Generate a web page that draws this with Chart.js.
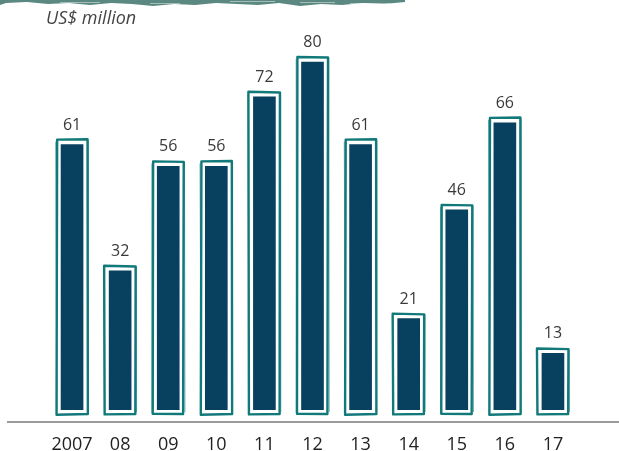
<!DOCTYPE html>
<html><head><meta charset="utf-8">
<script src="https://cdn.jsdelivr.net/npm/chart.js@4/dist/chart.umd.min.js"></script>
<style>html,body{margin:0;padding:0;background:#fff}#wrap{width:619px;height:451px;position:relative}</style>
</head><body><div id="wrap"><canvas id="c" width="619" height="451"></canvas></div>
<script>
const categories = ["2007","08","09","10","11","12","13","14","15","16","17"];
const values = [61,32,56,56,72,80,61,21,46,66,13];
const unitLabel = "US$ million";

const FILL = "#08405f", TEAL = "#12797a", FONT = "'Open Sans', 'Noto Sans', sans-serif";

const deco = {
  id: "deco",
  beforeDraw(chart) {
    const ctx = chart.ctx;
    ctx.save();
    ctx.fillStyle = "#5b8880";
    ctx.beginPath();
    ctx.moveTo(0, 0);
    ctx.lineTo(405, 0);
    const jag = [2,4,3,5,4,6,3,5,4,3,5,4,6,4,3,5,3,4,2,3];
    for (let i = 0; i < jag.length; i++) {
      ctx.lineTo(405 - i * 21, jag[i]);
    }
    ctx.lineTo(0, 5);
    ctx.closePath();
    ctx.fill();
    ctx.fillStyle = "rgba(255,255,255,0.45)";
    const streaks = [[60,2,40],[150,3,30],[230,1,45],[300,2,35],[350,3,40]];
    streaks.forEach(s => ctx.fillRect(s[0], s[1], s[2], 1));
    ctx.restore();
    ctx.save();
    ctx.font = "italic 18px " + FONT;
    ctx.fillStyle = "#444";
    ctx.textBaseline = "middle";
    ctx.fillText(unitLabel, 46, 19);
    ctx.restore();
  },
  afterDatasetsDraw(chart) {
    const ctx = chart.ctx;
    const meta = chart.getDatasetMeta(0);
    const base = chart.scales.y.getPixelForValue(0);
    const jit = [[0.6,-0.4,0.3,0.8],[-0.5,0.7,-0.3,0.4],[0.4,0.5,-0.6,-0.2]];
    meta.data.forEach((bar, i) => {
      const cx = bar.x, top = bar.y;
      const l = cx - 15.5, r = cx + 15.5, t = top - 5, b = base + 4;
      const j = jit[i % 3];
      ctx.save();
      ctx.strokeStyle = TEAL;
      ctx.lineWidth = 2.4;
      ctx.lineJoin = "round";
      ctx.beginPath();
      ctx.moveTo(l + j[0], t);
      ctx.lineTo(r, t + j[1]);
      ctx.lineTo(r + j[2], b);
      ctx.lineTo(l, b + j[3]);
      ctx.closePath();
      ctx.stroke();
      ctx.lineWidth = 1;
      ctx.globalAlpha = 0.6;
      ctx.beginPath();
      ctx.moveTo(l - 0.8, t + 2);
      ctx.lineTo(l - 0.5 + j[3], b - 1);
      ctx.moveTo(r + 0.8, t + 1);
      ctx.lineTo(r + 0.6 - j[2], b - 2);
      ctx.stroke();
      ctx.restore();
      ctx.save();
      ctx.font = "16px " + FONT;
      ctx.fillStyle = "#3a3a3a";
      ctx.textAlign = "center";
      ctx.textBaseline = "alphabetic";
      ctx.fillText(String(values[i]), cx, top - 15);
      ctx.restore();
    });
    ctx.save();
    ctx.strokeStyle = "#7a7a7a";
    ctx.lineWidth = 1.5;
    ctx.beginPath();
    ctx.moveTo(7, base + 12);
    ctx.lineTo(619, base + 12);
    ctx.stroke();
    ctx.restore();
  }
};

new Chart(document.getElementById("c"), {
  type: "bar",
  data: { labels: categories, datasets: [{ data: values, backgroundColor: FILL, barThickness: 22, borderWidth: 0 }] },
  options: {
    responsive: false, animation: false, devicePixelRatio: 1,
    layout: { padding: { left: 48, right: 42, top: 18.5, bottom: 0 } },
    plugins: { legend: { display: false }, tooltip: { enabled: false } },
    scales: {
      x: { grid: { display: false, drawTicks: false }, border: { display: false },
           afterFit(scale) { scale.height = 41; },
           ticks: { padding: 24, color: "#222", font: { size: 18, family: FONT } } },
      y: { display: false, min: 0, max: 90 }
    }
  },
  plugins: [deco]
});
</script></body></html>
